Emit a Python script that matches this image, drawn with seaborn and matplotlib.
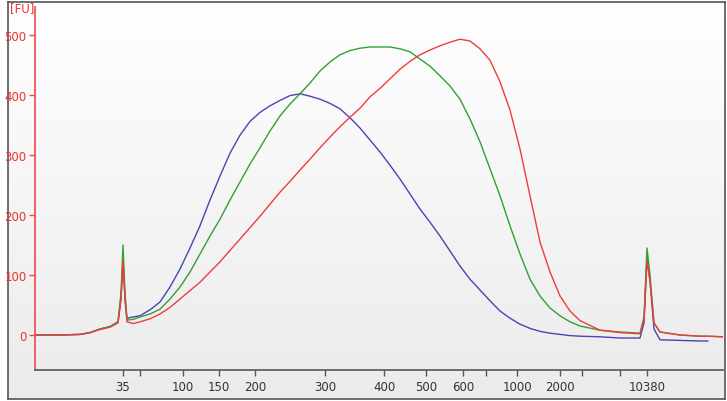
import numpy as np
import pandas as pd
import matplotlib
matplotlib.use("Agg")
import matplotlib.pyplot as plt
from matplotlib.colors import LinearSegmentedColormap
import seaborn as sns

# Migration position (arbitrary units along the run)
position = [35, 60, 80, 90, 100, 110, 118, 121, 123, 125, 127, 133, 140, 150, 160, 170, 180, 190,
            200, 210, 220, 230, 240, 250, 260, 270, 280, 290, 300, 310, 320, 330, 340, 350, 360,
            370, 380, 390, 400, 410, 420, 430, 440, 450, 460, 470, 480, 490, 500, 510, 520, 530,
            540, 550, 560, 570, 580, 600, 620, 640, 644, 647, 650, 654, 660, 680, 700, 708, 723]

blue_fu = [0, 0, 1, 4, 10, 14, 22, 60, 127, 60, 28, 30, 32, 42, 55, 80, 110, 145,
           182, 225, 265, 303, 333, 356, 371, 382, 391, 399, 402, 398, 393, 386, 377, 362, 345,
           325, 305, 283, 260, 235, 210, 188, 165, 140, 115, 93, 75, 57, 40, 28, 18, 11,
           6, 3, 1, -1, -2, -3, -5, -5, 20, 130, 90, 10, -8, -9, -10, -10, np.nan]

green_fu = [0, 0, 1, 4, 10, 14, 22, 70, 150, 70, 25, 26, 30, 35, 43, 60, 80, 105,
            135, 165, 193, 225, 255, 285, 312, 340, 365, 385, 402, 420, 440, 455, 467, 474, 478,
            480, 480, 480, 477, 472, 460, 448, 432, 415, 393, 360, 322, 277, 232, 182, 135, 93,
            65, 45, 32, 22, 15, 8, 5, 3, 30, 145, 100, 20, 5, 0, -2, -2, -3]

red_fu = [0, 0, 1, 4, 9, 13, 20, 60, 125, 60, 22, 19, 22, 27, 35, 46, 60, 74,
          88, 105, 122, 141, 160, 179, 198, 218, 238, 256, 275, 293, 312, 330, 347, 363, 378,
          397, 411, 427, 443, 456, 467, 475, 482, 488, 493, 490, 477, 458, 422, 375, 310, 232,
          155, 105, 65, 40, 24, 8, 4, 2, 25, 123, 90, 20, 5, 0, -2, -2, -3]

tick_pos = [123, 140, 183, 219, 255, 325, 384, 426, 463, 486, 517, 560, 582, 620, 647]
tick_labels = ["35", "", "100", "150", "200", "300", "400", "500", "600", "", "1000", "2000", "", "", "10380"]

y_ticks = [0, 100, 200, 300, 400, 500]

samples = ["blue", "green", "red"]
colors = {"blue": "#4646b4", "green": "#32a032", "red": "#f03c3c"}

df = pd.concat([
    pd.DataFrame({"position": position, "FU": vals, "sample": name})
    for name, vals in zip(samples, [blue_fu, green_fu, red_fu])
], ignore_index=True)

sns.set_style("white")
plt.rcParams["font.family"] = ["DejaVu Sans"]

W, H = 727, 402
fig = plt.figure(figsize=(W / 100, H / 100), dpi=100)

# framed gradient background
bg = fig.add_axes([8 / W, 1 - 400 / H, (725 - 8) / W, (400 - 3) / H])
grad = np.linspace(0, 1, 256).reshape(-1, 1)
cmap = LinearSegmentedColormap.from_list("g", ["#ffffff", "#ebebeb"])
bg.imshow(grad, aspect="auto", cmap=cmap, extent=[0, 1, 0, 1], origin="upper")
bg.set_xticks([]); bg.set_yticks([])
for s in bg.spines.values():
    s.set_color("#555555"); s.set_linewidth(1.2)
bg.set_zorder(0)

ax = fig.add_axes([35 / W, 1 - 371 / H, (723 - 35) / W, (371 - 8) / H])
ax.set_zorder(1)
ax.patch.set_alpha(0)

sns.lineplot(data=df, x="position", y="FU", hue="sample", palette=colors,
             estimator=None, sort=False, linewidth=1.0, legend=False, ax=ax)

ax.set_xlim(35, 723)
ax.set_ylim((336 - 371) / 0.6, (336 - 8) / 0.6)
ax.set_xlabel("")
ax.set_ylabel("")
ax.set_xticks(tick_pos)
ax.set_xticklabels(tick_labels)
ax.set_yticks(y_ticks)
ax.set_yticklabels([str(v) for v in y_ticks])

for side in ["top", "right"]:
    ax.spines[side].set_visible(False)
ax.spines["left"].set_color("#f04848")
ax.spines["left"].set_linewidth(1.2)
ax.spines["bottom"].set_color("#555555")
ax.spines["bottom"].set_linewidth(1.2)

ax.tick_params(axis="y", colors="#f04848", labelcolor="#f03030", length=4, width=1,
               direction="out", labelsize=8.5, pad=2, left=True)
ax.tick_params(axis="x", colors="#555555", labelcolor="#333333", length=4, width=1,
               direction="out", labelsize=8.5, pad=3, bottom=True)

fig.text(10 / W, 1 - 9 / H, "[FU]", color="#f03030", fontsize=8.5, ha="left", va="center")

fig.savefig("out.png", dpi=100)
